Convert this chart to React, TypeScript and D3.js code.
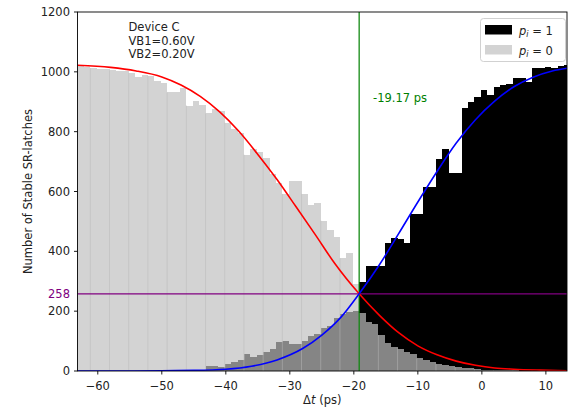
import React from "react";
import * as d3 from "d3";

// histogram bins: 1 ps wide, first edge at -63.17 ps
const binStart = -63.17;
const binWidth = 1;

// p_i = 0 counts (light gray)
const countsP0 = [
  1018, 1016, 1012, 1011, 1009, 1005, 1004, 1002, 996, 984,
  988, 985, 970, 962, 931, 933, 946, 887, 901, 888,
  861, 875, 870, 830, 808, 794, 723, 743, 733, 711,
  660, 627, 592, 634, 634, 592, 556, 560, 503, 471,
  449, 377, 395, 290, 193, 165, 158, 120, 92, 80,
  75, 62, 57, 42, 37, 30, 24, 20, 16, 13,
  11, 9, 7, 5, 4, 3, 3, 2, 2, 1,
  1, 1, 0, 1, 0, 0, 0,
];

// p_i = 1 counts (black)
const countsP1 = [
  0, 0, 0, 0, 0, 0, 0, 0, 0, 0,
  0, 0, 0, 0, 1, 1, 1, 2, 2, 4,
  18, 17, 12, 25, 31, 37, 56, 48, 53, 65,
  74, 96, 100, 90, 90, 100, 118, 123, 145, 150,
  176, 190, 196, 200, 298, 352, 352, 352, 427, 446,
  440, 427, 524, 524, 616, 616, 708, 742, 661, 661,
  878, 900, 917, 939, 922, 950, 955, 960, 980, 980,
  967, 1012, 1012, 1015, 1012, 1018, 1024,
];

// fitted curves
const redX = [-63.17, -58, -54, -50, -47, -44, -41, -38, -35, -32, -29, -26, -23, -19.17, -16, -13, -10, -7, -4, -1, 2, 5, 9, 13.3];
const redY = [1022, 1015, 1003, 983, 956, 918, 867, 802, 724, 640, 548, 455, 360, 258, 186, 128, 84, 54, 33, 19, 10, 6, 3, 1];
const blueX = [-63.17, -55, -50, -45, -40, -36, -32, -28, -25, -22, -19.17, -16, -13, -10, -7, -4, -1, 2, 5, 8, 11, 13.3];
const blueY = [0, 0, 1, 2, 6, 16, 37, 75, 120, 180, 258, 355, 459, 565, 667, 762, 840, 902, 950, 982, 1003, 1012];

const crossX = -19.17;
const crossY = 258;

const xTicks = [-60, -50, -40, -30, -20, -10, 0, 10];
const yTicks = [0, 200, 400, 600, 800, 1000, 1200];
const infoLines = ["Device C", "VB1=0.60V", "VB2=0.20V"];

const W = 568;
const H = 410;
const left = 77.5;
const right = 567;
const top = 12;
const bottom = 371;
const font = "DejaVu Sans, sans-serif";
const overlapColor = "#858585";
const lightColor = "#d3d3d3";

const fmt = (v: number) => (v < 0 ? "\u2212" + Math.abs(v) : String(v));

export default function App() {
  const x = d3.scaleLinear().domain([binStart, 13.3]).range([left, right]);
  const y = d3.scaleLinear().domain([0, 1200]).range([bottom, top]);

  const bins = countsP0.map((c0, i) => {
    const x0 = binStart + i * binWidth;
    return { x0, x1: x0 + binWidth, p0: c0, p1: countsP1[i] };
  });

  const line = d3
    .line<[number, number]>()
    .x((d) => x(d[0]))
    .y((d) => y(d[1]))
    .curve(d3.curveMonotoneX);
  const redPath = line(redX.map((v, i) => [v, redY[i]]));
  const bluePath = line(blueX.map((v, i) => [v, blueY[i]]));

  // faint edge lines every third bin
  const edgeLines = [];
  for (let k = 2; k < bins.length; k += 3) {
    const a = bins[k - 1];
    const b = bins[k];
    const ov = Math.min(a.p0, a.p1, b.p0, b.p1);
    const lightTop = a.p0 > a.p1 && b.p0 > b.p1 ? Math.min(a.p0, b.p0) : ov;
    const xe = x(b.x0);
    if (ov > 0)
      edgeLines.push(
        <line key={"d" + k} x1={xe} x2={xe} y1={y(0)} y2={y(ov)} stroke="#a2a2a2" strokeWidth={0.9} />
      );
    if (lightTop > ov)
      edgeLines.push(
        <line key={"l" + k} x1={xe} x2={xe} y1={y(ov)} y2={y(lightTop)} stroke="#c4c4c4" strokeWidth={0.9} />
      );
  }

  return (
    <svg
      width={W}
      height={H}
      viewBox={`0 0 ${W} ${H}`}
      style={{ position: "absolute", left: 0, top: 0, background: "#fff" }}
      fontFamily={font}
    >
      <defs>
        <clipPath id="plot">
          <rect x={left} y={top} width={right - left} height={bottom - top} />
        </clipPath>
      </defs>

      <g clipPath="url(#plot)">
        <g shapeRendering="crispEdges">
          {bins.map((b, i) => (
            <rect key={"p0" + i} x={x(b.x0)} width={x(b.x1) - x(b.x0)} y={y(b.p0)} height={y(0) - y(b.p0)} fill={lightColor} />
          ))}
          {bins.map((b, i) => (
            <rect key={"p1" + i} x={x(b.x0)} width={x(b.x1) - x(b.x0)} y={y(b.p1)} height={y(0) - y(b.p1)} fill="#000" />
          ))}
          {bins.map((b, i) => {
            const m = Math.min(b.p0, b.p1);
            return <rect key={"ov" + i} x={x(b.x0)} width={x(b.x1) - x(b.x0)} y={y(m)} height={y(0) - y(m)} fill={overlapColor} />;
          })}
        </g>
        {edgeLines}
        <line x1={left} x2={right} y1={y(crossY)} y2={y(crossY)} stroke="purple" strokeWidth={1.2} />
        <line x1={x(crossX)} x2={x(crossX)} y1={top} y2={bottom} stroke="green" strokeWidth={1.2} />
        <path d={redPath ?? ""} fill="none" stroke="red" strokeWidth={1.6} />
        <path d={bluePath ?? ""} fill="none" stroke="blue" strokeWidth={1.6} />
      </g>

      {/* spines */}
      <rect x={left} y={top} width={right - left} height={bottom - top} fill="none" stroke="#000" strokeWidth={0.9} />

      {/* x axis */}
      {xTicks.map((t) => (
        <g key={"xt" + t}>
          <line x1={x(t)} x2={x(t)} y1={bottom} y2={bottom + 3.5} stroke="#000" strokeWidth={0.9} />
          <text x={x(t)} y={390} fontSize={11.5} textAnchor="middle" fill="#222">
            {fmt(t)}
          </text>
        </g>
      ))}
      <text x={(left + right) / 2} y={404} fontSize={11.5} textAnchor="middle" fill="#222">
        Δ<tspan fontStyle="italic">t</tspan> (ps)
      </text>

      {/* y axis */}
      {yTicks.map((t) => (
        <g key={"yt" + t}>
          <line x1={left - 3.5} x2={left} y1={y(t)} y2={y(t)} stroke="#000" strokeWidth={0.9} />
          <text x={70} y={y(t) + 4} fontSize={11.5} textAnchor="end" fill="#222">
            {t}
          </text>
        </g>
      ))}
      <text x={70} y={y(crossY) + 4} fontSize={11.5} textAnchor="end" fill="purple">
        {crossY}
      </text>
      <text transform={`translate(31.5, ${(top + bottom) / 2}) rotate(-90)`} fontSize={11.5} textAnchor="middle" fill="#222">
        Number of Stable SR-latches
      </text>

      {/* annotations */}
      {infoLines.map((s, i) => (
        <text key={s} x={128.5} y={31 + i * 13.6} fontSize={11.5} fill="#222">
          {s}
        </text>
      ))}
      <text x={373} y={102} fontSize={11.5} fill="green">
        {fmt(crossX).replace("\u2212", "-")} ps
      </text>

      {/* legend */}
      <rect x={480.5} y={18.5} width={85} height={43} rx={3} fill="#fff" fillOpacity={0.8} stroke="#cccccc" strokeWidth={0.9} />
      <rect x={485} y={25} width={27} height={9.5} fill="#000" />
      <rect x={485} y={45} width={27} height={9.5} fill={lightColor} />
      {[1, 0].map((v, i) => (
        <text key={"lg" + v} x={519} y={34.5 + i * 20} fontSize={11.5} fill="#222">
          <tspan fontStyle="italic">p</tspan>
          <tspan fontStyle="italic" fontSize={8} dy={2.5}>i</tspan>
          <tspan dy={-2.5}> = {v}</tspan>
        </text>
      ))}
    </svg>
  );
}
